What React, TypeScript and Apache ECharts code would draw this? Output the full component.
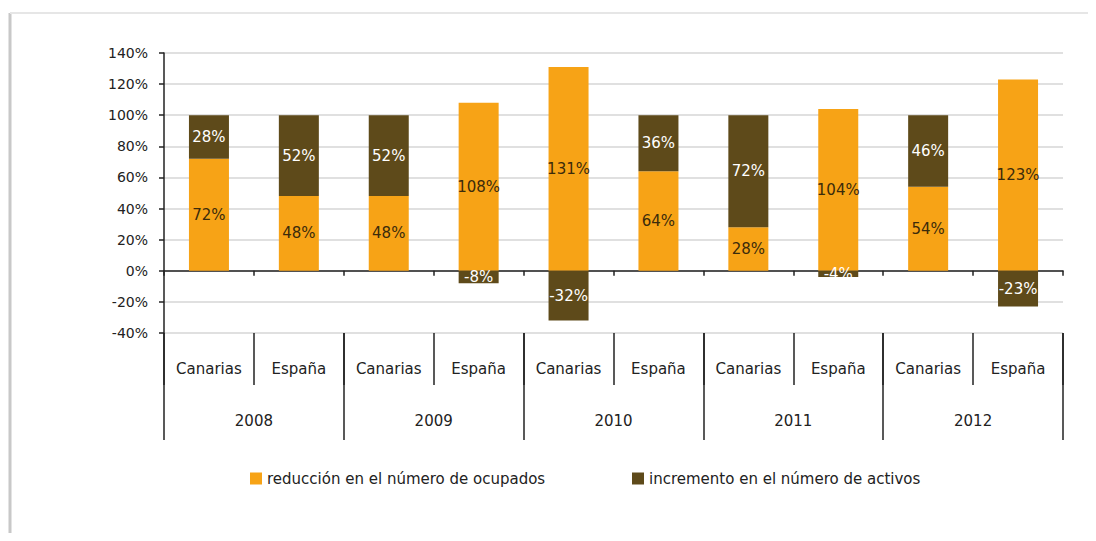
import React, { useEffect, useRef } from "react";
import * as echarts from "echarts";

const regions = ["Canarias", "España", "Canarias", "España", "Canarias", "España", "Canarias", "España", "Canarias", "España"];
const years = ["2008", "2009", "2010", "2011", "2012"];
const reduccionOcupados = [72, 48, 48, 108, 131, 64, 28, 104, 54, 123];
const incrementoActivos = [28, 52, 52, -8, -32, 36, 72, -4, 46, -23];
const seriesNames = ["reducción en el número de ocupados", "incremento en el número de activos"];

const ORANGE = "#F7A316";
const BROWN = "#5E4A1A";
const FONT = "DejaVu Sans";
const TEXT = "#222";

export default function App() {
  const ref = useRef<HTMLDivElement>(null);
  useEffect(() => {
    const chart = echarts.init(ref.current!, null, { renderer: "svg" });
    const option: any = {
      animation: false,
      backgroundColor: "#fff",
      textStyle: { fontFamily: FONT },
      graphic: [
        { type: "line", shape: { x1: 10, y1: 13, x2: 10, y2: 538 }, style: { stroke: "#c8c8c8", lineWidth: 3 } },
        { type: "line", shape: { x1: 10, y1: 13, x2: 1096, y2: 13 }, style: { stroke: "#e6e6e6", lineWidth: 2 } },
        { type: "line", shape: { x1: 10, y1: 539, x2: 1096, y2: 539 }, style: { stroke: "#ececec", lineWidth: 2 } },
      ],
      grid: { left: 164, right: 33, top: 53, bottom: 208, containLabel: false },
      legend: [
        {
          left: 245, top: 466, itemWidth: 12, itemHeight: 12, itemGap: 10,
          icon: "rect", data: [seriesNames[0]],
          textStyle: { fontFamily: FONT, fontSize: 15, color: TEXT },
        },
        {
          left: 627, top: 466, itemWidth: 12, itemHeight: 12, itemGap: 10,
          icon: "rect", data: [seriesNames[1]],
          textStyle: { fontFamily: FONT, fontSize: 15, color: TEXT },
        },
      ],
      xAxis: [
        {
          type: "category", data: regions, position: "bottom",
          axisLine: { onZero: true, lineStyle: { color: "#222", width: 1.5 } },
          axisTick: { show: true, length: 5, lineStyle: { color: "#222", width: 1.5 } },
          axisLabel: { show: false },
        },
        {
          type: "category", data: regions, position: "bottom",
          axisLine: { show: false, onZero: false },
          axisTick: { show: true, length: 52, interval: 0, lineStyle: { color: "#222", width: 1.5 } },
          axisLabel: { interval: 0, margin: 28, fontSize: 15, color: TEXT, fontFamily: FONT },
        },
        {
          type: "category", data: years, position: "bottom",
          axisLine: { show: false, onZero: false },
          axisTick: { show: true, length: 107, interval: 0, lineStyle: { color: "#222", width: 1.5 } },
          axisLabel: { interval: 0, margin: 80, fontSize: 15, color: TEXT, fontFamily: FONT },
        },
      ],
      yAxis: {
        type: "value", min: -40, max: 140, interval: 20,
        axisLine: { show: true, lineStyle: { color: "#222", width: 1.5 } },
        axisTick: { show: true, length: 5, lineStyle: { color: "#222", width: 1.5 } },
        axisLabel: { formatter: "{value}%", fontSize: 14, color: TEXT, margin: 16, fontFamily: FONT },
        splitLine: { show: true, lineStyle: { color: "#d6d6d6", width: 1.5 } },
      },
      series: [
        {
          name: seriesNames[0], type: "bar", stack: "total", xAxisIndex: 0,
          data: reduccionOcupados, barWidth: 40,
          itemStyle: { color: ORANGE },
          label: { show: true, position: "inside", formatter: "{c}%", color: "#3b2b0b", fontSize: 15, fontFamily: FONT },
        },
        {
          name: seriesNames[1], type: "bar", stack: "total", xAxisIndex: 0,
          data: incrementoActivos, barWidth: 40,
          itemStyle: { color: BROWN },
          label: { show: true, position: "inside", formatter: "{c}%", color: "#fff", fontSize: 15, fontFamily: FONT },
        },
      ],
    };
    chart.setOption(option);
    return () => chart.dispose();
  }, []);
  return <div ref={ref} style={{ width: 1096, height: 541, margin: "-8px" }} />;
}
